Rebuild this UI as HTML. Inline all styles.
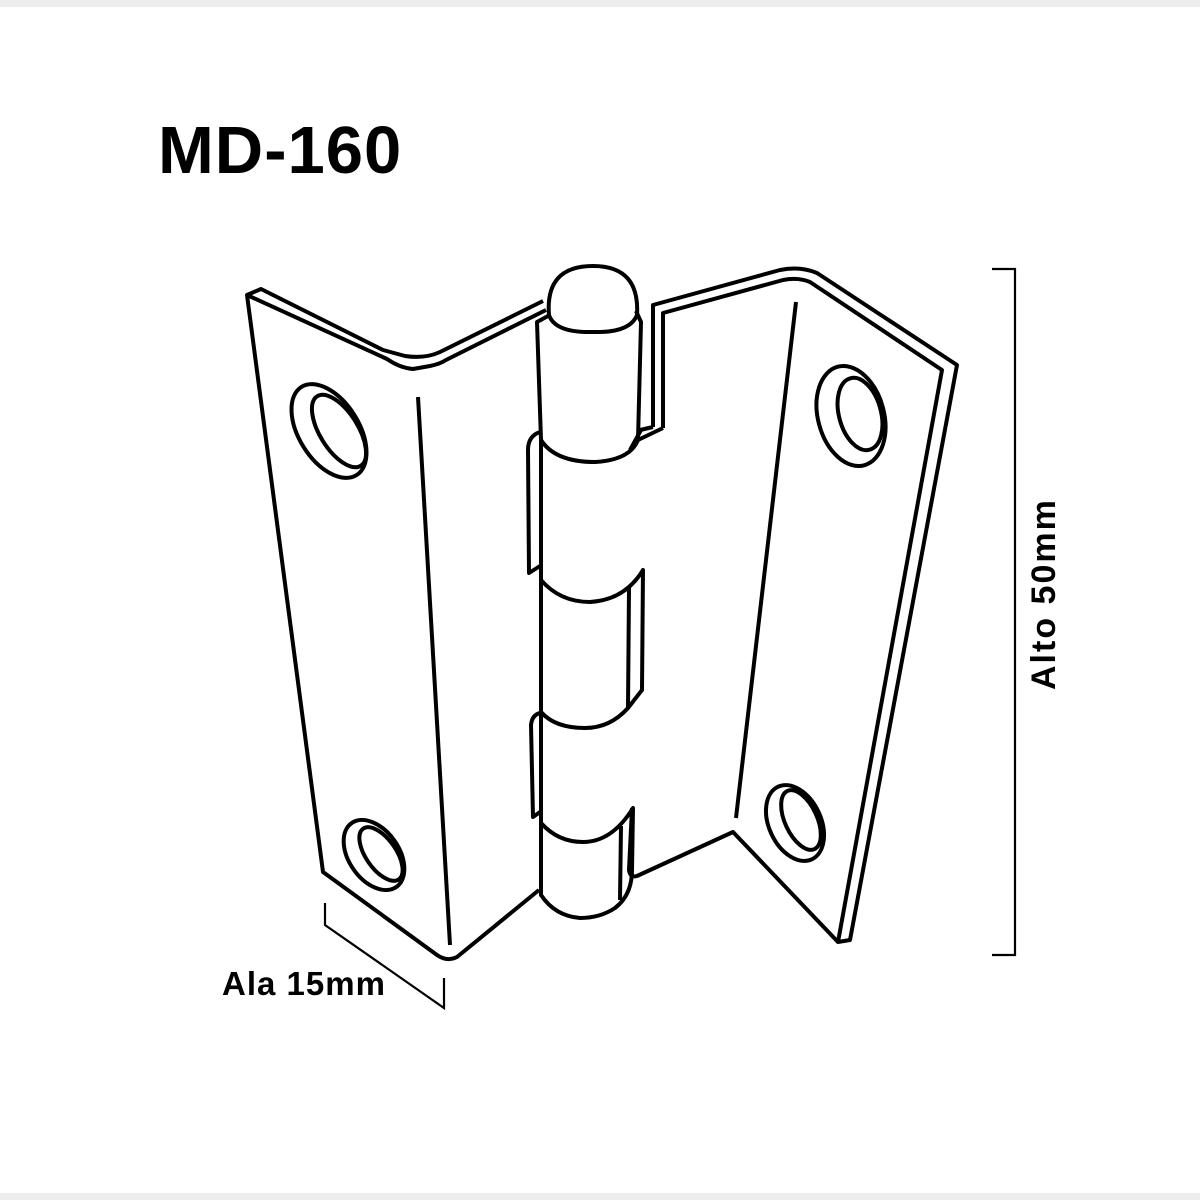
<!DOCTYPE html>
<html><head><meta charset="utf-8"><style>
html,body{margin:0;padding:0;background:#fff}
body{width:1200px;height:1200px;position:relative;overflow:hidden;font-family:"Liberation Sans",sans-serif}
.band{position:absolute;left:0;width:1200px;height:7px;background:#ededed}
</style></head><body>
<div class="band" style="top:0"></div>
<div class="band" style="top:1193px"></div>
<svg width="1200" height="1200" style="position:absolute;left:0;top:0" xmlns="http://www.w3.org/2000/svg">
<g fill="none" stroke="#000" stroke-width="4" stroke-linejoin="round" stroke-linecap="butt">
<!-- left leaf -->
<path d="M543,301 L440,352 Q425,359 405,356 L383,350 L261,289 L247,295 L323,872 L437,955 Q447,962 457,957 L539,890"/>
<path d="M247,295 L387,359 Q400,368 413,369 L430,366 Q440,364 446,360 L546,310"/>
<line x1="418" y1="397" x2="450" y2="945"/>
<ellipse cx="329" cy="431" rx="30" ry="52" transform="rotate(-32 329 431)"/>
<ellipse cx="339" cy="431" rx="19" ry="41" transform="rotate(-32 339 431)"/>
<ellipse cx="374" cy="855" rx="25" ry="39" transform="rotate(-35 374 855)"/>
<ellipse cx="381" cy="854" rx="15" ry="31" transform="rotate(-35 381 854)"/>
<!-- right leaf -->
<path d="M653,427 L653,305 L780,270 Q800,266 817,273 L957,365 L850,940 L838,942 L733,832 L637,876 Q630,878 629,870 L632,808"/>
<path d="M663,428 L663,313 L783,280 Q798,277 810,282 L942,370 L838,942"/>
<path d="M638,440 L663,428 M640,430 L653,427"/>
<line x1="796" y1="302" x2="736" y2="818"/>
<ellipse cx="851" cy="416" rx="33" ry="51" transform="rotate(-15 851 416)"/>
<ellipse cx="860" cy="414" rx="21" ry="37" transform="rotate(-15 860 414)"/>
<ellipse cx="795" cy="823" rx="26" ry="40" transform="rotate(-25 795 823)"/>
<ellipse cx="801" cy="820" rx="16" ry="32" transform="rotate(-25 801 820)"/>
<!-- pin cap -->
<path d="M549,315 Q545,266 593,266 Q640,266 637,315 Q630,333 593,332 Q555,333 549,315 Z" fill="#fff"/>
<!-- knuckle 1 -->
<path d="M548,316 L537,322 L541,440 Q555,462 595,462 Q630,460 638,440 L641,322 L636,311"/>
<path d="M641,430 L630,450"/>
<!-- left tab 1 -->
<path d="M540,432 Q528,436 528,450 L529,573 L540,566"/>
<!-- knuckle 2 -->
<path d="M541,580 Q560,602 590,602 Q625,600 643,570 L642,690 L628,708 Q610,728 585,728 Q555,728 541,712"/>
<line x1="629" y1="588" x2="628" y2="708"/>
<line x1="541" y1="580" x2="541" y2="712"/>
<!-- left tab 2 -->
<path d="M540,713 Q532,715 531,725 L533,817 L540,812"/>
<!-- knuckle 3 -->
<path d="M541,823 Q558,842 583,842 Q612,842 633,808 L632,870 Q632,895 615,908 Q600,918 580,918 Q555,916 541,895 Z"/>
<line x1="621" y1="826" x2="620" y2="900"/>
<line x1="541" y1="440" x2="541" y2="895"/>
</g>
<g fill="none" stroke="#000" stroke-width="2.2">
<path d="M992,269 L1015,269 L1015,955 L992,955"/>
<path d="M325,903 L325,925 L444,1008 L444,978"/>
</g>
<text x="158" y="173" font-family="Liberation Sans, sans-serif" font-weight="bold" font-size="67" letter-spacing="1">MD-160</text>
<text x="222" y="995" font-family="Liberation Sans, sans-serif" font-weight="bold" font-size="33" letter-spacing="1">Ala 15mm</text>
<text transform="translate(1055,690) rotate(-90)" font-family="Liberation Sans, sans-serif" font-weight="bold" font-size="34" letter-spacing="2">Alto 50mm</text>
</svg>
</body></html>
